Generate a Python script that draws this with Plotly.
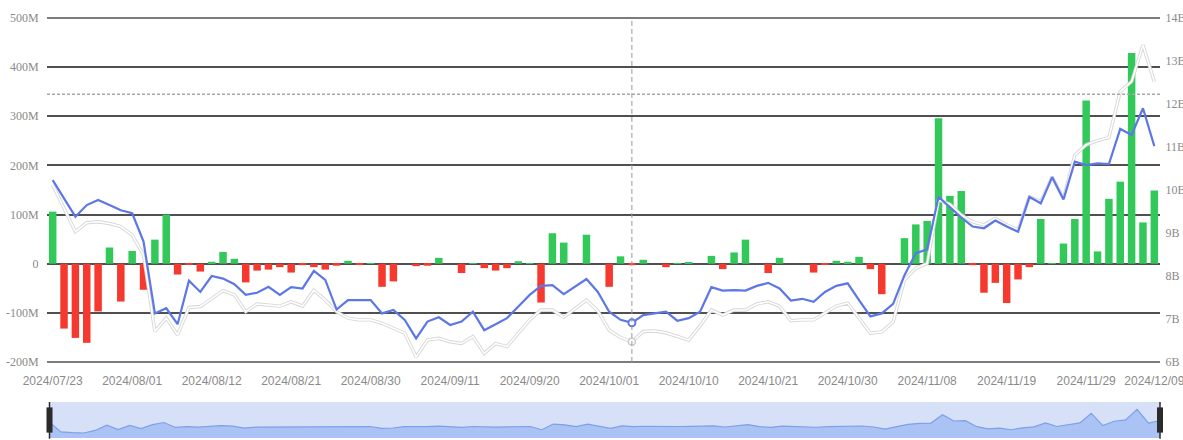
import plotly.graph_objects as go

# ---------------- data ----------------
dates = [
    "2024/07/23", "2024/07/24", "2024/07/25", "2024/07/26", "2024/07/29", "2024/07/30", "2024/07/31",
    "2024/08/01", "2024/08/02", "2024/08/05", "2024/08/06", "2024/08/07", "2024/08/08", "2024/08/09",
    "2024/08/12", "2024/08/13", "2024/08/14", "2024/08/15", "2024/08/16", "2024/08/19", "2024/08/20",
    "2024/08/21", "2024/08/22", "2024/08/23", "2024/08/26", "2024/08/27", "2024/08/28", "2024/08/29",
    "2024/08/30", "2024/09/03", "2024/09/04", "2024/09/05", "2024/09/06", "2024/09/09", "2024/09/10",
    "2024/09/11", "2024/09/12", "2024/09/13", "2024/09/16", "2024/09/17", "2024/09/18", "2024/09/19",
    "2024/09/20", "2024/09/23", "2024/09/24", "2024/09/25", "2024/09/26", "2024/09/27", "2024/09/30",
    "2024/10/01", "2024/10/02", "2024/10/03", "2024/10/04", "2024/10/07", "2024/10/08", "2024/10/09",
    "2024/10/10", "2024/10/11", "2024/10/14", "2024/10/15", "2024/10/16", "2024/10/17", "2024/10/18",
    "2024/10/21", "2024/10/22", "2024/10/23", "2024/10/24", "2024/10/25", "2024/10/28", "2024/10/29",
    "2024/10/30", "2024/10/31", "2024/11/01", "2024/11/04", "2024/11/05", "2024/11/06", "2024/11/07",
    "2024/11/08", "2024/11/11", "2024/11/12", "2024/11/13", "2024/11/14", "2024/11/15", "2024/11/18",
    "2024/11/19", "2024/11/20", "2024/11/21", "2024/11/22", "2024/11/25", "2024/11/26", "2024/11/27",
    "2024/11/29", "2024/12/02", "2024/12/03", "2024/12/04", "2024/12/05", "2024/12/06", "2024/12/09",
]

# net flow bars, in millions (left axis)
flow_m = [
    106, -132, -151, -161, -97, 33, -77, 26, -53, 49,
    100, -22, -2, -16, 4, 24, 10, -38, -14, -12,
    -7, -18, -3, -7, -12, -4, 6, -1, 0.5, -47,
    -36, 0, -5, -4, 12, 0, -19, 1, -9, -14,
    -9, 5, 1, -79, 62, 43, 0, 59, 0, -47,
    15, -3, 8, 0, -7, 1, 2, 0, 16, -11,
    23, 49, 0, -19, 12, 0, 0, -18, -2, 6,
    4, 14, -11, -62, 0, 52, 80, 87, 296, 138,
    148, -3, -59, -39, -80, -32, -7, 91, 1, 41,
    91, 332, 25, 132, 167, 429, 84, 149,
]

# blue line, in billions (right axis)
blue_b = [
    10.23, 9.81, 9.38, 9.65, 9.77, 9.65, 9.53, 9.46, 8.80, 7.13,
    7.25, 6.88, 7.89, 7.63, 8.00, 7.94, 7.81, 7.56, 7.61, 7.75,
    7.56, 7.74, 7.71, 8.12, 7.91, 7.22, 7.44, 7.44, 7.44, 7.13,
    7.21, 6.98, 6.55, 6.94, 7.04, 6.86, 6.94, 7.17, 6.74, 6.88,
    7.02, 7.29, 7.56, 7.77, 7.79, 7.58, 7.75, 7.93, 7.63, 7.17,
    6.98, 6.91, 7.09, 7.13, 7.17, 6.96, 7.02, 7.17, 7.74, 7.66,
    7.67, 7.66, 7.77, 7.84, 7.71, 7.43, 7.47, 7.40, 7.63, 7.77,
    7.83, 7.44, 7.06, 7.13, 7.35, 8.02, 8.53, 8.62, 9.84, 9.60,
    9.36, 9.15, 9.11, 9.29, 9.15, 9.03, 9.84, 9.69, 10.30, 9.78,
    10.66, 10.58, 10.62, 10.60, 11.42, 11.28, 11.90, 11.02,
]

# white line, in billions (right axis)
white_b = [
    10.12, 9.57, 9.03, 9.24, 9.26, 9.22, 9.15, 8.95, 8.49, 6.71,
    7.02, 6.63, 7.27, 7.29, 7.48, 7.66, 7.56, 7.17, 7.35, 7.33,
    7.30, 7.40, 7.30, 7.67, 7.44, 7.17, 7.02, 6.98, 6.98, 6.90,
    6.78, 6.67, 6.12, 6.51, 6.55, 6.47, 6.43, 6.59, 6.20, 6.43,
    6.36, 6.67, 6.98, 7.21, 7.21, 7.04, 7.25, 7.44, 7.19, 6.74,
    6.57, 6.47, 6.71, 6.72, 6.68, 6.60, 6.51, 6.84, 7.21, 7.09,
    7.21, 7.21, 7.35, 7.40, 7.30, 6.96, 6.98, 6.98, 7.14, 7.30,
    7.37, 7.02, 6.67, 6.70, 6.93, 7.91, 8.18, 8.29, 9.77, 9.67,
    9.42, 9.26, 9.19, 9.34, 9.19, 9.07, 9.84, 9.73, 10.31, 9.80,
    10.81, 11.05, 11.15, 11.22, 12.29, 12.52, 13.37, 12.52,
]

x_tick_labels = [
    "2024/07/23", "2024/08/01", "2024/08/12", "2024/08/21", "2024/08/30", "2024/09/11",
    "2024/09/20", "2024/10/01", "2024/10/10", "2024/10/21", "2024/10/30", "2024/11/08",
    "2024/11/19", "2024/11/29", "2024/12/09",
]
left_tick_vals = [-200, -100, 0, 100, 200, 300, 400, 500]
left_tick_text = ["-200M", "-100M", "0", "100M", "200M", "300M", "400M", "500M"]
right_tick_vals = [6, 7, 8, 9, 10, 11, 12, 13, 14]
right_tick_text = ["6B", "7B", "8B", "9B", "10B", "11B", "12B", "13B", "14B"]

hover_index = 51          # crosshair category
pointer_level_m = 345     # horizontal crosshair level (left axis)

# ---------------- styles ----------------
GREEN = "#33c95a"
RED = "#f5392e"
BLUE = "#5d77e6"
GRID = "#505050"
TICK = "#8a8a8a"
SLIDER_MIN, SLIDER_MAX = -285, 611

bar_colors = [GREEN if v >= 0 else RED for v in flow_m]

fig = go.Figure()

fig.add_trace(go.Bar(
    x=dates, y=flow_m, marker=dict(color=bar_colors, line=dict(width=0)),
    xaxis="x", yaxis="y", showlegend=False, hoverinfo="skip",
))

# white line with grey halo
fig.add_trace(go.Scatter(
    x=dates, y=white_b, mode="lines", line=dict(color="#d6d6d6", width=3.4),
    xaxis="x", yaxis="y2", showlegend=False, hoverinfo="skip",
))
fig.add_trace(go.Scatter(
    x=dates, y=white_b, mode="lines", line=dict(color="#ffffff", width=1.6),
    xaxis="x", yaxis="y2", showlegend=False, hoverinfo="skip",
))
fig.add_trace(go.Scatter(
    x=dates, y=blue_b, mode="lines", line=dict(color=BLUE, width=2.2),
    xaxis="x", yaxis="y2", showlegend=False, hoverinfo="skip",
))
# highlighted points at the crosshair
fig.add_trace(go.Scatter(
    x=[dates[hover_index]], y=[white_b[hover_index]], mode="markers",
    marker=dict(size=7, color="#ffffff", line=dict(color="#c8c8c8", width=1.5)),
    xaxis="x", yaxis="y2", showlegend=False, hoverinfo="skip",
))
fig.add_trace(go.Scatter(
    x=[dates[hover_index]], y=[blue_b[hover_index]], mode="markers",
    marker=dict(size=7, color="#ffffff", line=dict(color=BLUE, width=2)),
    xaxis="x", yaxis="y2", showlegend=False, hoverinfo="skip",
))

# slider data shadow
fig.add_trace(go.Scatter(
    x=dates, y=[SLIDER_MIN] * len(dates), mode="lines", line=dict(width=0),
    xaxis="x2", yaxis="y3", showlegend=False, hoverinfo="skip",
))
fig.add_trace(go.Scatter(
    x=dates, y=flow_m, mode="lines", line=dict(color="#7f9fea", width=1.2),
    fill="tonexty", fillcolor="#aac2f4",
    xaxis="x2", yaxis="y3", showlegend=False, hoverinfo="skip",
))

H, T, B = 440, 18, 2
plot_h = H - T - B
main_bottom = (438 - 362) / plot_h
slider_top = 36 / plot_h

tick_font_sans = dict(family="Liberation Sans, Arial, sans-serif", size=12, color=TICK)
tick_font_serif = dict(family="Liberation Serif, Times New Roman, serif", size=12, color=TICK)

# gridlines at the very top and bottom of the value range (plotly omits edge grids)
edge_lines = [
    dict(type="line", xref="paper", yref="paper", x0=0, x1=1, y0=yv, y1=yv,
         line=dict(color=GRID, width=1.6), layer="below")
    for yv in (main_bottom, 1)
]

fig.update_layout(
    width=1183, height=H,
    margin=dict(l=47, r=23, t=T, b=B, autoexpand=False),
    paper_bgcolor="#ffffff", plot_bgcolor="#ffffff",
    bargap=0.34,
    showlegend=False,
    xaxis=dict(
        type="category", domain=[0, 1], anchor="y", range=[-0.5, len(dates) - 0.5],
        tickmode="array", tickvals=x_tick_labels, ticktext=x_tick_labels,
        showgrid=False, showline=False, zeroline=False,
        ticks="outside", ticklen=8, tickcolor="rgba(0,0,0,0)",
        tickfont=tick_font_sans, automargin=False, fixedrange=True,
    ),
    yaxis=dict(
        domain=[main_bottom, 1], anchor="x", range=[-200, 500],
        tickmode="array", tickvals=left_tick_vals, ticktext=left_tick_text,
        showgrid=True, gridcolor=GRID, gridwidth=1.6, zeroline=False, showline=False,
        ticks="outside", ticklen=5, tickcolor="rgba(0,0,0,0)",
        tickfont=tick_font_serif, automargin=False,
    ),
    yaxis2=dict(
        overlaying="y", side="right", anchor="x", range=[6, 14],
        tickmode="array", tickvals=right_tick_vals, ticktext=right_tick_text,
        showgrid=False, zeroline=False, showline=False,
        ticks="outside", ticklen=2, tickcolor="rgba(0,0,0,0)",
        tickfont=tick_font_serif, automargin=False,
    ),
    xaxis2=dict(
        type="category", domain=[2.5 / 1113, 1], anchor="y3", range=[0, len(dates) - 1],
        showticklabels=False, showgrid=False, zeroline=False, showline=False, ticks="",
        automargin=False,
    ),
    yaxis3=dict(
        domain=[0, slider_top], anchor="x2", range=[SLIDER_MIN, SLIDER_MAX],
        showticklabels=False, showgrid=False, zeroline=False, showline=False, ticks="",
        automargin=False,
    ),
    shapes=edge_lines + [
        # slider background
        dict(type="rect", xref="x2 domain", yref="y3 domain", x0=0, x1=1, y0=0, y1=1,
             fillcolor="#d6e1f7", line=dict(width=0), layer="below"),
        # slider handles
        dict(type="line", xref="x2 domain", yref="y3 domain", x0=0, x1=0, y0=-0.02, y1=1.0,
             line=dict(color="#2b2b2b", width=1.5)),
        dict(type="line", xref="x2 domain", yref="y3 domain", x0=0, x1=0, y0=0.15, y1=0.85,
             line=dict(color="#2b2b2b", width=6)),
        dict(type="line", xref="x2 domain", yref="y3 domain", x0=1, x1=1, y0=-0.02, y1=1.0,
             line=dict(color="#2b2b2b", width=1.5)),
        dict(type="line", xref="x2 domain", yref="y3 domain", x0=1, x1=1, y0=0.15, y1=0.85,
             line=dict(color="#2b2b2b", width=6)),
        # crosshair
        dict(type="line", xref="x", yref="y", x0=dates[hover_index], x1=dates[hover_index],
             y0=-200, y1=500, line=dict(color="#9a9a9a", width=1, dash="5px,3px")),
        dict(type="line", xref="x domain", yref="y", x0=0, x1=1,
             y0=pointer_level_m, y1=pointer_level_m,
             line=dict(color="#a8a8a8", width=1.5, dash="3px,2px")),
    ],
)

fig.write_html(
    "out.html",
    config={"displayModeBar": False},
    post_script="document.body.style.margin='0';document.body.style.overflow='hidden';",
)
